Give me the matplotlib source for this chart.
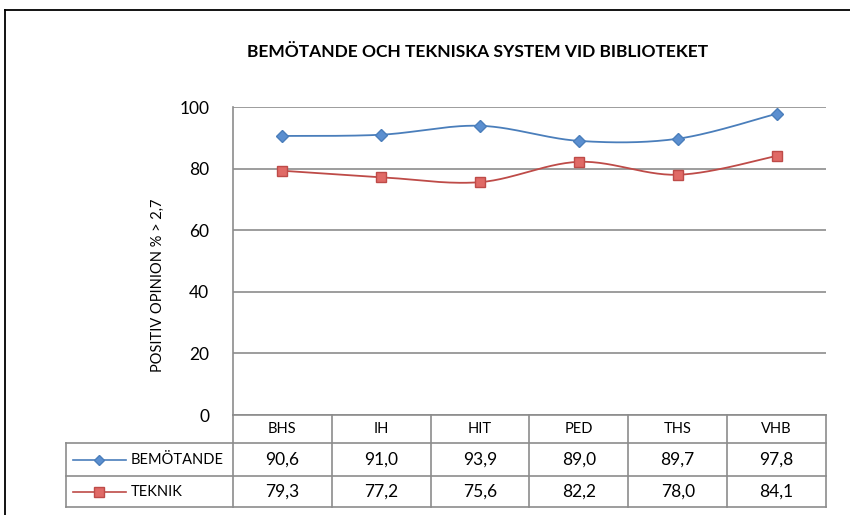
import numpy as np
import matplotlib.pyplot as plt
from matplotlib.lines import Line2D

categories = ['BHS', 'IH', 'HIT', 'PED', 'THS', 'VHB']
bemotande = [90.6, 91.0, 93.9, 89.0, 89.7, 97.8]
teknik = [79.3, 77.2, 75.6, 82.2, 78.0, 84.1]
series_names = ['BEMÖTANDE', 'TEKNIK']
yticks = [0, 20, 40, 60, 80, 100]

blue_line, blue_face = '#4a7ebb', '#5b8fd0'
red_line, red_face = '#be4b48', '#e06a66'
grid_col = '#8c8c8c'

plt.rcParams['font.family'] = ['Lato', 'DejaVu Sans']

W, H = 850, 515
fig = plt.figure(figsize=(W / 100, H / 100), dpi=100)


def box(l, t, r, b):
    return [l / W, (H - b) / H, (r - l) / W, (b - t) / H]


def smooth(x, y, n=30):
    # excel-style smoothed line: bezier segments with catmull-rom handles
    x = np.asarray(x, float)
    y = np.asarray(y, float)
    px = np.concatenate([[x[0]], x, [x[-1]]])
    py = np.concatenate([[y[0]], y, [y[-1]]])
    t = np.linspace(0, 1, n)[:, None]
    xs, ys = [], []
    for i in range(1, len(x)):
        p0 = np.array([px[i], py[i]])
        p3 = np.array([px[i + 1], py[i + 1]])
        c1 = p0 + (np.array([px[i + 1], py[i + 1]]) - np.array([px[i - 1], py[i - 1]])) / 6
        c2 = p3 - (np.array([px[i + 2], py[i + 2]]) - np.array([px[i], py[i]])) / 6
        pts = ((1 - t) ** 3) * p0 + 3 * ((1 - t) ** 2) * t * c1 + 3 * (1 - t) * t ** 2 * c2 + t ** 3 * p3
        xs.append(pts[:, 0])
        ys.append(pts[:, 1])
    return np.concatenate(xs), np.concatenate(ys)


ax = fig.add_axes(box(233, 107, 826, 415))
xpos = np.arange(len(categories))
for vals, lc, fc, mk, ms in [(bemotande, blue_line, blue_face, 'D', 6.5),
                             (teknik, red_line, red_face, 's', 7.5)]:
    sx, sy = smooth(xpos, vals)
    ax.plot(sx, sy, color=lc, lw=1.3, zorder=3)
    ax.plot(xpos, vals, ls='none', marker=mk, ms=ms, mfc=fc, mec=lc, mew=1.0, zorder=4)

ax.set_xlim(-0.5, len(categories) - 0.5)
ax.set_ylim(0, 100)
ax.set_yticks(yticks)
ax.set_yticklabels([str(v) for v in yticks], fontsize=12.5)
ax.tick_params(axis='y', length=0, pad=17)
ax.set_xticks([])
ax.grid(axis='y', color=grid_col, lw=1.2)
ax.set_axisbelow(True)
for s in ['top', 'right', 'bottom']:
    ax.spines[s].set_visible(False)
ax.spines['left'].set_color(grid_col)
ax.spines['left'].set_linewidth(1.2)

fig.text(158 / W, (H - 285) / H, 'POSITIV OPINION % > 2,7', rotation=90,
         ha='center', va='center', fontsize=10.5)
fig.text(478 / W, (H - 52) / H, 'BEMÖTANDE OCH TEKNISKA SYSTEM VID BIBLIOTEKET',
         ha='center', va='center', fontsize=12.5, fontweight='bold')

# data table under the plot, drawn in pixel coordinates
tax = fig.add_axes(box(0, 0, W, H))
tax.set_xlim(0, W)
tax.set_ylim(H, 0)
tax.axis('off')

col_l, col_r = 233, 826
cw = (col_r - col_l) / len(categories)
rows = [415, 443, 476, 507]
lkw = dict(color=grid_col, lw=1.2)
tax.plot([col_l, col_r], [rows[0], rows[0]], **lkw)
for yy in rows[1:]:
    tax.plot([66, col_r], [yy, yy], **lkw)
tax.plot([66, 66], [rows[1], rows[3]], **lkw)
for i in range(len(categories) + 1):
    xx = col_l + i * cw
    tax.plot([xx, xx], [rows[0], rows[3]], **lkw)

for i, c in enumerate(categories):
    cx = col_l + (i + 0.5) * cw
    tax.text(cx, (rows[0] + rows[1]) / 2, c, ha='center', va='center', fontsize=10.5)
    tax.text(cx, (rows[1] + rows[2]) / 2, f'{bemotande[i]:.1f}'.replace('.', ','),
             ha='center', va='center', fontsize=12.5)
    tax.text(cx, (rows[2] + rows[3]) / 2, f'{teknik[i]:.1f}'.replace('.', ','),
             ha='center', va='center', fontsize=12.5)

for r, name, lc, fc, mk, ms in [(1, series_names[0], blue_line, blue_face, 'D', 5.5),
                                (2, series_names[1], red_line, red_face, 's', 6.5)]:
    cy = (rows[r] + rows[r + 1]) / 2
    tax.add_line(Line2D([73, 126], [cy, cy], color=lc, lw=1.2))
    tax.plot([99.5], [cy], marker=mk, ms=ms, mfc=fc, mec=lc, mew=1.0)
    tax.text(131, cy, name, ha='left', va='center', fontsize=10.5)

# outer chart border
tax.plot([5, W], [10, 10], color='black', lw=1.3)
tax.plot([5, 5], [10, H], color='black', lw=1.3)

fig.savefig('out.png', dpi=100)
